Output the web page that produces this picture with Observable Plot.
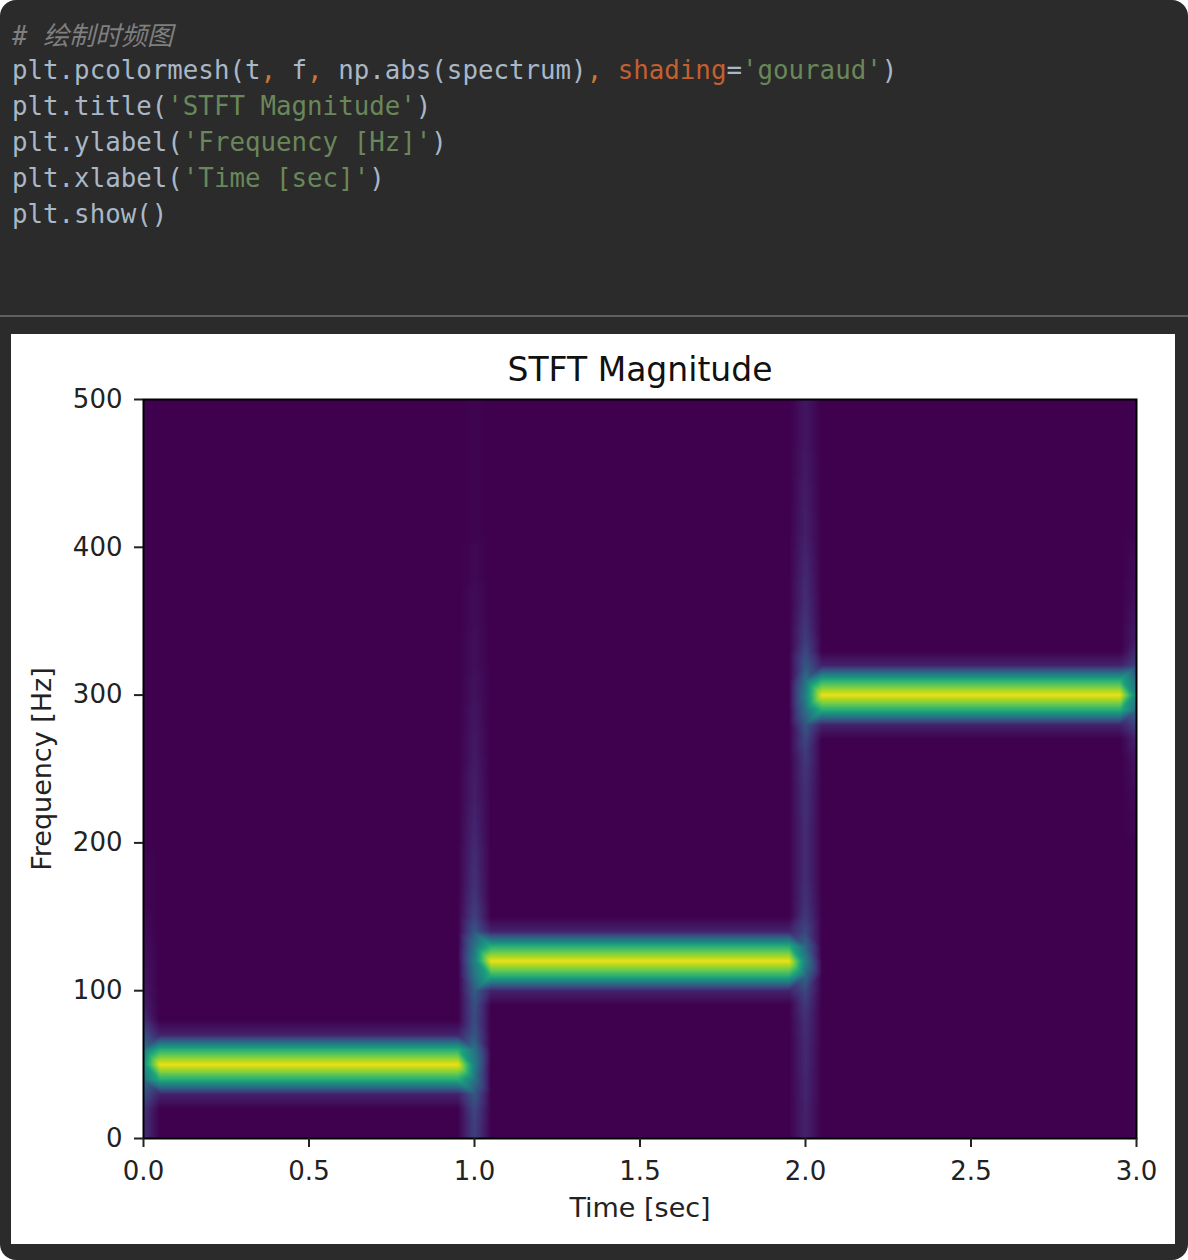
<!DOCTYPE html>
<html>
<head>
<meta charset="utf-8">
<script src="https://cdn.jsdelivr.net/npm/d3@7"></script>
<script src="https://cdn.jsdelivr.net/npm/@observablehq/plot@0.6"></script>
<style>
  html, body { margin: 0; padding: 0; background: #ffffff; }
  #panel { position: relative; width: 1188px; height: 1260px; background: #2b2b2b; border-radius: 16px; overflow: hidden; }
  #code { position: absolute; left: 12px; top: 16px; font-family: "DejaVu Sans Mono", monospace; font-size: 25.8px; color: #a9b7c6; }
  #code .line { height: 36px; line-height: 36px; white-space: pre; }
  #code .cm { color: #7f7f7f; font-style: italic; }
  #code .cjk { font-family: "Noto Sans CJK SC", sans-serif; font-size: 26px; font-style: italic; }
  #code .st { color: #6a8759; }
  #code .kw { color: #cc7832; }
  #code .na { color: #c4602f; }
  #rule { position: absolute; left: 0; top: 315px; width: 1188px; height: 2px; background: #5f5f5f; }
  #figure { position: absolute; left: 11px; top: 334px; width: 1164px; height: 910px; background: #ffffff; }
  #figure svg { display: block; }
</style>
</head>
<body>
<div id="panel">
<div id="code">
<div class="line"><span class="cm"># <span class="cjk">绘制时频图</span></span></div>
<div class="line">plt.pcolormesh(t<span class="kw">,</span> f<span class="kw">,</span> np.abs(spectrum)<span class="kw">,</span> <span class="na">shading</span>=<span class="st">'gouraud'</span>)</div>
<div class="line">plt.title(<span class="st">'STFT Magnitude'</span>)</div>
<div class="line">plt.ylabel(<span class="st">'Frequency [Hz]'</span>)</div>
<div class="line">plt.xlabel(<span class="st">'Time [sec]'</span>)</div>
<div class="line">plt.show()</div>
</div>
<div id="rule"></div>
<div id="figure"></div>
</div>
<script>
// STFT grid: frames every 0.05 s over 3 s, bins every 10 Hz up to 500 Hz
const frameTimes = d3.range(61).map(i => Math.round(i * 5) / 100);
const binFreqs = d3.range(51).map(j => j * 10);

// Tone segments of the test signal
const toneStart = [0, 1, 2];
const toneEnd = [1, 2, 3];
const toneFreq = [50, 120, 300];

// Relative magnitude of a steady tone in its own bin and the neighbouring bins
const lobeOffset = [-20, -10, 0, 10, 20];
const lobeLevel = [0.1, 0.65, 1, 0.65, 0.1];

// Frames centred on the signal edges and on the tone changes (one level per bin, 0..500 Hz)
const edgeTimes = [0, 1, 2, 3];
const edgeLevels = [
  [0.14, 0.14, 0.16, 0.25, 0.4, 0.5, 0.4, 0.25, 0.14, 0.09,
   0.07, 0.06, 0.05, 0.04, 0.03, 0.03, 0.02, 0.02, 0.02, 0.02,
   0.01, 0.01, 0.01, 0.01, 0.01, 0.01, 0.01, 0.01, 0.01, 0.01,
   0.01, 0.01, 0.01, 0.01, 0.01, 0.01, 0.01, 0.01, 0.01, 0.01,
   0.01, 0.01, 0.01, 0.01, 0.01, 0.01, 0.01, 0.01, 0.01, 0.01, 0.01],
  [0.2, 0.2, 0.22, 0.28, 0.4, 0.45, 0.4, 0.28, 0.24, 0.25,
   0.3, 0.4, 0.45, 0.4, 0.28, 0.2, 0.17, 0.15, 0.14, 0.13,
   0.12, 0.11, 0.1, 0.09, 0.09, 0.08, 0.07, 0.07, 0.06, 0.06,
   0.05, 0.05, 0.04, 0.04, 0.04, 0.03, 0.03, 0.03, 0.02, 0.02,
   0.02, 0.01, 0.01, 0.01, 0.01, 0.01, 0.01, 0.01, 0.01, 0.01, 0.01],
  [0.1, 0.1, 0.1, 0.11, 0.11, 0.12, 0.12, 0.13, 0.14, 0.17,
   0.22, 0.34, 0.45, 0.34, 0.22, 0.17, 0.15, 0.14, 0.13, 0.13,
   0.13, 0.13, 0.14, 0.14, 0.15, 0.16, 0.18, 0.22, 0.28, 0.38,
   0.45, 0.38, 0.28, 0.22, 0.18, 0.16, 0.14, 0.13, 0.12, 0.11,
   0.1, 0.09, 0.09, 0.08, 0.08, 0.07, 0.07, 0.06, 0.06, 0.06, 0.06],
  [0.01, 0.01, 0.01, 0.01, 0.01, 0.01, 0.01, 0.01, 0.01, 0.01,
   0.01, 0.01, 0.01, 0.01, 0.01, 0.01, 0.01, 0.01, 0.01, 0.01,
   0.01, 0.02, 0.02, 0.03, 0.04, 0.05, 0.07, 0.1, 0.2, 0.36,
   0.45, 0.36, 0.2, 0.12, 0.08, 0.06, 0.05, 0.04, 0.03, 0.03,
   0.02, 0.01, 0.01, 0.01, 0.01, 0.01, 0.01, 0.01, 0.01, 0.01, 0.01]
];

// Axis ticks
const xTicks = [0, 0.5, 1, 1.5, 2, 2.5, 3];
const yTicks = [0, 100, 200, 300, 400, 500];

// One sample per (frame, bin)
function magnitude(t, f, j) {
  const e = edgeTimes.indexOf(t);
  if (e >= 0) return edgeLevels[e][j];
  const s = toneStart.findIndex((t0, k) => t > t0 && t < toneEnd[k]);
  if (s < 0) return 0;
  const o = lobeOffset.indexOf(f - toneFreq[s]);
  return o >= 0 ? lobeLevel[o] : 0;
}
const cells = [];
for (const t of frameTimes) {
  binFreqs.forEach((f, j) => cells.push({t, f, v: magnitude(t, f, j)}));
}

// viridis, a touch darker as rendered on screen
const viridisShade = (t) => {
  const c = d3.rgb(d3.interpolateViridis(t));
  return d3.rgb(c.r * 0.92, c.g * 0.97, c.b * 0.92).toString();
};

const chart = Plot.plot({
  width: 1164,
  height: 910,
  marginLeft: 132,
  marginRight: 39,
  marginTop: 65,
  marginBottom: 106,
  style: {fontFamily: "DejaVu Sans", fontSize: "26px", color: "#222", background: "#ffffff", overflow: "visible"},
  x: {domain: [0, 3]},
  y: {domain: [0, 500]},
  color: {type: "linear", domain: [0, 1], interpolate: viridisShade},
  marks: [
    // gouraud-style shading: linear interpolation over triangles of the grid
    Plot.raster(cells, {x: "t", y: "f", fill: "v", interpolate: "barycentric", pixelSize: 1}),
    Plot.frame({stroke: "#000", strokeWidth: 2}),
    Plot.axisX({ticks: xTicks, tickFormat: d3.format(".1f"), tickSize: 9, tickPadding: 14, strokeWidth: 2, fontSize: 26, label: null}),
    Plot.axisY({ticks: yTicks, tickFormat: d3.format("d"), tickSize: 9, tickPadding: 12, strokeWidth: 2, fontSize: 26, label: null}),
    Plot.text(["STFT Magnitude"], {frameAnchor: "top", lineAnchor: "middle", dy: -29, fontSize: 33, fill: "#111"}),
    Plot.text(["Time [sec]"], {frameAnchor: "bottom", lineAnchor: "middle", dy: 70, fontSize: 27, fill: "#222"}),
    Plot.text(["Frequency [Hz]"], {frameAnchor: "left", textAnchor: "middle", lineAnchor: "middle", dx: -101, rotate: -90, fontSize: 27, fill: "#222"})
  ]
});
document.getElementById("figure").appendChild(chart);
</script>
</body>
</html>
